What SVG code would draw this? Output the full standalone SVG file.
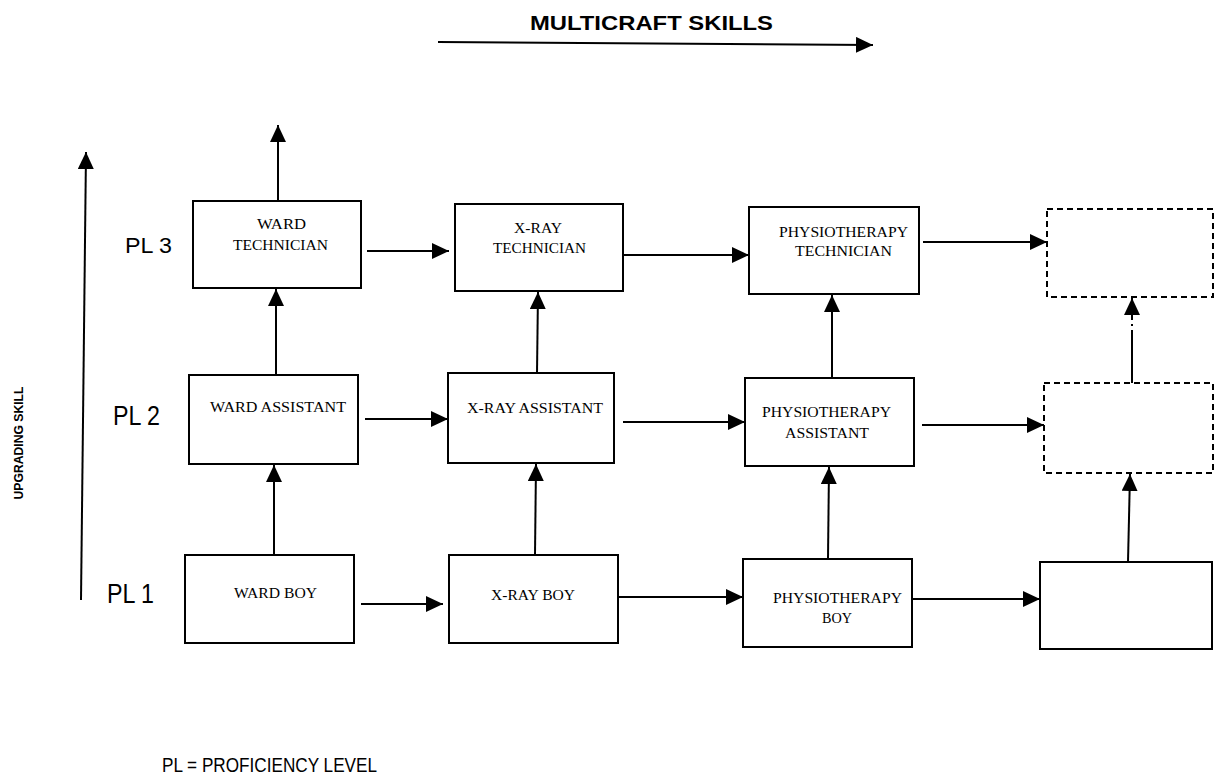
<svg xmlns="http://www.w3.org/2000/svg" width="1215" height="778" viewBox="0 0 1215 778">
<style>
.box{fill:none;stroke:#000;stroke-width:2}
.dash{fill:none;stroke:#000;stroke-width:2;stroke-dasharray:6 4}
.c line{stroke:#000;stroke-width:2;marker-end:url(#ah)}
.t{font-family:"Liberation Serif","Times New Roman",serif;font-size:15px;fill:#000}
.pl{font-family:"Liberation Sans",Arial,sans-serif;fill:#000}
</style>
<defs>
<marker id="ah" markerUnits="userSpaceOnUse" markerWidth="18" markerHeight="18" refX="17" refY="8" orient="auto">
<path d="M0,0 L17,8 L0,16 z" fill="#000"/>
</marker>
</defs>
<rect width="1215" height="778" fill="#fff"/>

<text x="530" y="30" font-family="Liberation Sans,Arial,sans-serif" font-weight="bold" font-size="21" textLength="243" lengthAdjust="spacingAndGlyphs">MULTICRAFT SKILLS</text>
<text class="pl" x="125" y="253" font-size="22" textLength="47" lengthAdjust="spacingAndGlyphs">PL 3</text>
<text class="pl" x="113" y="425" font-size="27" textLength="47" lengthAdjust="spacingAndGlyphs">PL 2</text>
<text class="pl" x="107" y="603" font-size="28" textLength="47" lengthAdjust="spacingAndGlyphs">PL 1</text>
<text class="pl" transform="translate(23,443) rotate(-90)" text-anchor="middle" font-size="13" font-weight="bold" textLength="113" lengthAdjust="spacingAndGlyphs">UPGRADING SKILL</text>
<text class="pl" x="162" y="772" font-size="20" textLength="215" lengthAdjust="spacingAndGlyphs">PL = PROFICIENCY LEVEL</text>

<g id="ward-technician">
<rect class="box" x="193" y="201" width="168" height="87"/>
<text class="t" x="257" y="229" textLength="49" lengthAdjust="spacingAndGlyphs">WARD</text>
<text class="t" x="233" y="250" textLength="95" lengthAdjust="spacingAndGlyphs">TECHNICIAN</text>
</g>
<g id="xray-technician">
<rect class="box" x="455" y="204" width="168" height="87"/>
<text class="t" x="514" y="233" textLength="48" lengthAdjust="spacingAndGlyphs">X-RAY</text>
<text class="t" x="493" y="253" textLength="93" lengthAdjust="spacingAndGlyphs">TECHNICIAN</text>
</g>
<g id="physio-technician">
<rect class="box" x="749" y="207" width="170" height="87"/>
<text class="t" x="779" y="237" textLength="129" lengthAdjust="spacingAndGlyphs">PHYSIOTHERAPY</text>
<text class="t" x="795" y="256" textLength="97" lengthAdjust="spacingAndGlyphs">TECHNICIAN</text>
</g>
<g id="pl3-blank">
<rect class="dash" x="1047" y="209" width="166" height="88"/>
</g>

<g id="ward-assistant">
<rect class="box" x="189" y="375" width="169" height="89"/>
<text class="t" x="210" y="412" textLength="136" lengthAdjust="spacingAndGlyphs">WARD ASSISTANT</text>
</g>
<g id="xray-assistant">
<rect class="box" x="448" y="373" width="166" height="90"/>
<text class="t" x="467" y="413" textLength="136" lengthAdjust="spacingAndGlyphs">X-RAY ASSISTANT</text>
</g>
<g id="physio-assistant">
<rect class="box" x="745" y="378" width="169" height="88"/>
<text class="t" x="762" y="417" textLength="129" lengthAdjust="spacingAndGlyphs">PHYSIOTHERAPY</text>
<text class="t" x="785" y="438" textLength="84" lengthAdjust="spacingAndGlyphs">ASSISTANT</text>
</g>
<g id="pl2-blank">
<rect class="dash" x="1044" y="383" width="169" height="90"/>
</g>

<g id="ward-boy">
<rect class="box" x="185" y="555" width="169" height="88"/>
<text class="t" x="234" y="598" textLength="83" lengthAdjust="spacingAndGlyphs">WARD BOY</text>
</g>
<g id="xray-boy">
<rect class="box" x="449" y="555" width="169" height="88"/>
<text class="t" x="491" y="600" textLength="84" lengthAdjust="spacingAndGlyphs">X-RAY BOY</text>
</g>
<g id="physio-boy">
<rect class="box" x="743" y="559" width="169" height="88"/>
<text class="t" x="773" y="603" textLength="129" lengthAdjust="spacingAndGlyphs">PHYSIOTHERAPY</text>
<text class="t" x="822" y="623" textLength="30" lengthAdjust="spacingAndGlyphs">BOY</text>
</g>
<g id="pl1-blank">
<rect class="box" x="1040" y="562" width="172" height="87"/>
</g>

<g id="connectors" class="c">
<line x1="438" y1="42" x2="873" y2="45"/>
<line x1="81" y1="600" x2="86" y2="152"/>
<line x1="278" y1="201" x2="278" y2="125"/>
<line x1="276" y1="375" x2="276" y2="289"/>
<line x1="274" y1="555" x2="274" y2="465"/>
<line x1="367" y1="251" x2="449" y2="251"/>
<line x1="623" y1="255" x2="749" y2="255"/>
<line x1="923" y1="242" x2="1047" y2="242"/>
<line x1="365" y1="419" x2="448" y2="419"/>
<line x1="537" y1="373" x2="538" y2="292"/>
<line x1="623" y1="422" x2="745" y2="422"/>
<line x1="832" y1="378" x2="832" y2="295"/>
<line x1="922" y1="425" x2="1044" y2="425"/>
<path d="M1132,383 V338" stroke="#000" stroke-width="2" fill="none"/>
<line x1="1132" y1="338" x2="1132" y2="298" stroke-dasharray="8 4 2 4"/>
<line x1="361" y1="604" x2="443" y2="604"/>
<line x1="618" y1="597" x2="743" y2="597"/>
<line x1="912" y1="599" x2="1040" y2="599"/>
<line x1="535" y1="555" x2="536" y2="464"/>
<line x1="828" y1="559" x2="829" y2="467"/>
<line x1="1128" y1="562" x2="1130" y2="474"/>
</g>
</svg>
